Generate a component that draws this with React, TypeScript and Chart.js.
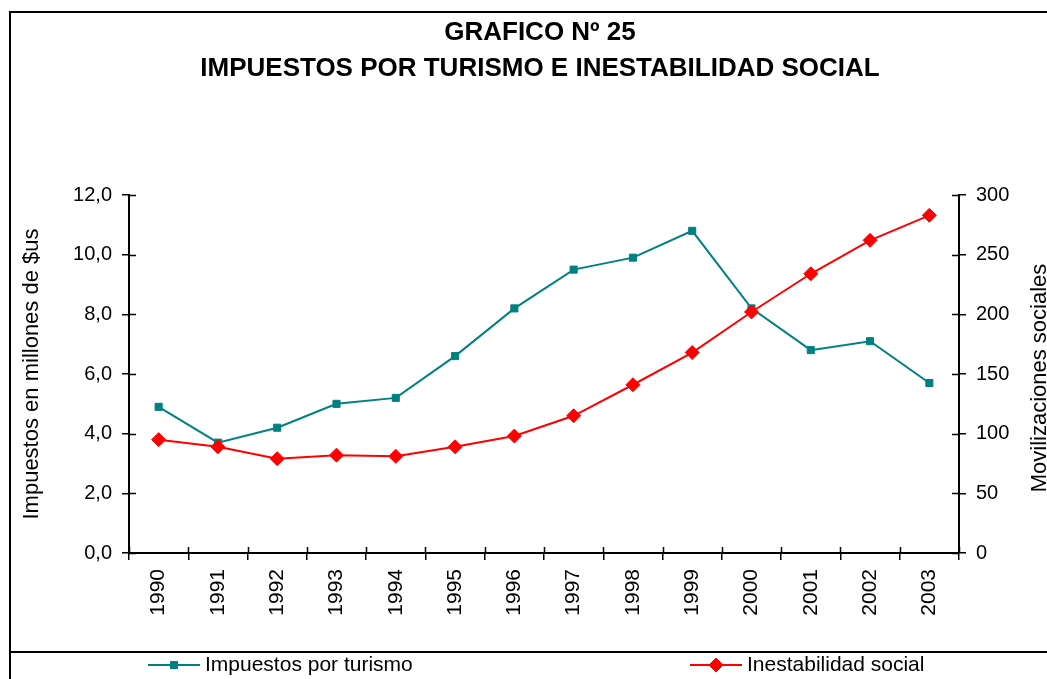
import React, { useEffect, useRef } from 'react';
import { Chart, registerables } from 'chart.js';
import { drawPoint } from 'chart.js/helpers';

Chart.register(...registerables);

const years = ['1990', '1991', '1992', '1993', '1994', '1995', '1996', '1997', '1998', '1999', '2000', '2001', '2002', '2003'];
const impuestos = [4.9, 3.7, 4.2, 5.0, 5.2, 6.6, 8.2, 9.5, 9.9, 10.8, 8.2, 6.8, 7.1, 5.7];
const movilizaciones = [95, 89, 79, 82, 81, 89, 98, 115, 141, 168, 202, 234, 262, 283];
const titleLines = ['GRAFICO Nº 25', 'IMPUESTOS POR TURISMO E INESTABILIDAD SOCIAL'];
const leftAxisTitle = 'Impuestos en millones de $us';
const rightAxisTitle = 'Movilizaciones sociales';
const seriesNames = ['Impuestos por turismo', 'Inestabilidad social'];

const FONT = '"Liberation Sans", Arial, Helvetica, sans-serif';
const TEAL = '#008080';
const RED = '#FF0000';
const CANVAS_W = 1080;
const CANVAS_H = 679;

const framePlugin = {
  id: 'frame',
  afterDraw(chart: any) {
    const ctx = chart.ctx;
    const area = chart.chartArea;
    ctx.save();
    // outer frame and legend separator
    ctx.strokeStyle = '#000';
    ctx.lineWidth = 2;
    ctx.strokeRect(10, 12, 1060, 720);
    ctx.beginPath();
    ctx.moveTo(10, 652);
    ctx.lineTo(1070, 652);
    ctx.stroke();

    // inner halves of crossing tick marks
    ctx.lineWidth = 1.5;
    const yL = chart.scales.y;
    const yR = chart.scales.y1;
    const xS = chart.scales.x;
    ctx.beginPath();
    yL.ticks.forEach((t: any) => {
      const p = Math.round(yL.getPixelForValue(t.value)) + 0.5;
      ctx.moveTo(area.left, p);
      ctx.lineTo(area.left + 7, p);
    });
    yR.ticks.forEach((t: any) => {
      const p = Math.round(yR.getPixelForValue(t.value)) + 0.5;
      ctx.moveTo(area.right - 7, p);
      ctx.lineTo(area.right, p);
    });
    for (let i = 0; i <= years.length; i++) {
      const p = Math.round(xS.getPixelForValue(i - 0.5)) + 0.5;
      ctx.moveTo(p, area.bottom - 6);
      ctx.lineTo(p, area.bottom);
    }
    ctx.stroke();

    // axis titles
    ctx.fillStyle = '#000';
    ctx.font = `22px ${FONT}`;
    ctx.textAlign = 'center';
    ctx.textBaseline = 'middle';
    ctx.save();
    ctx.translate(32, 374);
    ctx.rotate(-Math.PI / 2);
    ctx.fillText(leftAxisTitle, 0, 0);
    ctx.restore();
    ctx.save();
    ctx.translate(1040, 378);
    ctx.rotate(-Math.PI / 2);
    ctx.fillText(rightAxisTitle, 0, 0);
    ctx.restore();

    // legend
    const items = [
      { x: 148, ds: chart.data.datasets[1] },
      { x: 690, ds: chart.data.datasets[0] },
    ];
    const ly = 665;
    items.forEach((it) => {
      const ds: any = it.ds;
      ctx.strokeStyle = ds.borderColor;
      ctx.lineWidth = 2;
      ctx.beginPath();
      ctx.moveTo(it.x, ly);
      ctx.lineTo(it.x + 52, ly);
      ctx.stroke();
      ctx.fillStyle = ds.backgroundColor;
      ctx.strokeStyle = ds.borderColor;
      ctx.lineWidth = 1;
      drawPoint(ctx, { pointStyle: ds.pointStyle, radius: ds.pointRadius, borderWidth: 1, rotation: 0 }, it.x + 26, ly);
      ctx.fillStyle = '#000';
      ctx.font = `21px ${FONT}`;
      ctx.textAlign = 'left';
      ctx.textBaseline = 'middle';
      ctx.fillText(ds.label, it.x + 57, ly);
    });
    ctx.restore();
  },
};

export default function App() {
  const canvasRef = useRef<HTMLCanvasElement | null>(null);

  useEffect(() => {
    const canvas = canvasRef.current;
    if (!canvas) return;
    Chart.defaults.font.family = FONT;
    Chart.defaults.color = '#000';
    const chart = new Chart(canvas, {
      type: 'line',
      data: {
        labels: years,
        datasets: [
          {
            label: seriesNames[1],
            data: movilizaciones,
            yAxisID: 'y1',
            order: 0,
            borderColor: RED,
            backgroundColor: RED,
            borderWidth: 2,
            pointStyle: 'rectRot',
            pointRadius: 7,
            pointBorderWidth: 1,
            tension: 0,
          },
          {
            label: seriesNames[0],
            data: impuestos,
            yAxisID: 'y',
            order: 1,
            borderColor: TEAL,
            backgroundColor: TEAL,
            borderWidth: 2,
            pointStyle: 'rect',
            pointRadius: 5,
            pointBorderWidth: 1,
            tension: 0,
          },
        ],
      },
      options: {
        responsive: false,
        animation: false,
        devicePixelRatio: 1,
        layout: { padding: 0 },
        plugins: {
          legend: { display: false },
          tooltip: { enabled: false },
          title: {
            display: true,
            text: titleLines,
            color: '#000',
            font: { size: 26, weight: 'bold', family: FONT, lineHeight: 1.385 },
            padding: { top: 15, bottom: 108 },
          },
        },
        scales: {
          x: {
            type: 'category',
            offset: true,
            grid: { offset: true, drawOnChartArea: false, drawTicks: true, tickLength: 7, color: '#000', lineWidth: 1.5 },
            border: { display: true, color: '#000', width: 2 },
            ticks: { color: '#000', font: { size: 21 }, minRotation: 90, maxRotation: 90, padding: 9, autoSkip: false },
            afterFit: (s: any) => { s.height = 126; },
          },
          y: {
            position: 'left',
            min: 0,
            max: 12,
            ticks: {
              stepSize: 2,
              color: '#000',
              font: { size: 20 },
              padding: 10,
              callback: (v: any) => Number(v).toFixed(1).replace('.', ','),
            },
            grid: { drawOnChartArea: false, tickLength: 7, color: '#000', lineWidth: 1.5 },
            border: { display: true, color: '#000', width: 2 },
            afterFit: (s: any) => { s.width = 129; },
          },
          y1: {
            position: 'right',
            min: 0,
            max: 300,
            ticks: { stepSize: 50, color: '#000', font: { size: 20 }, padding: 10 },
            grid: { drawOnChartArea: false, tickLength: 7, color: '#000', lineWidth: 1.5 },
            border: { display: true, color: '#000', width: 2 },
            afterFit: (s: any) => { s.width = CANVAS_W - 959; },
          },
        },
      },
      plugins: [framePlugin],
    });
    return () => chart.destroy();
  }, []);

  return (
    <div style={{ position: 'absolute', left: 0, top: 0, width: 1047, height: 679, overflow: 'hidden', background: '#fff' }}>
      <canvas ref={canvasRef} width={CANVAS_W} height={CANVAS_H} style={{ display: 'block' }} />
    </div>
  );
}
